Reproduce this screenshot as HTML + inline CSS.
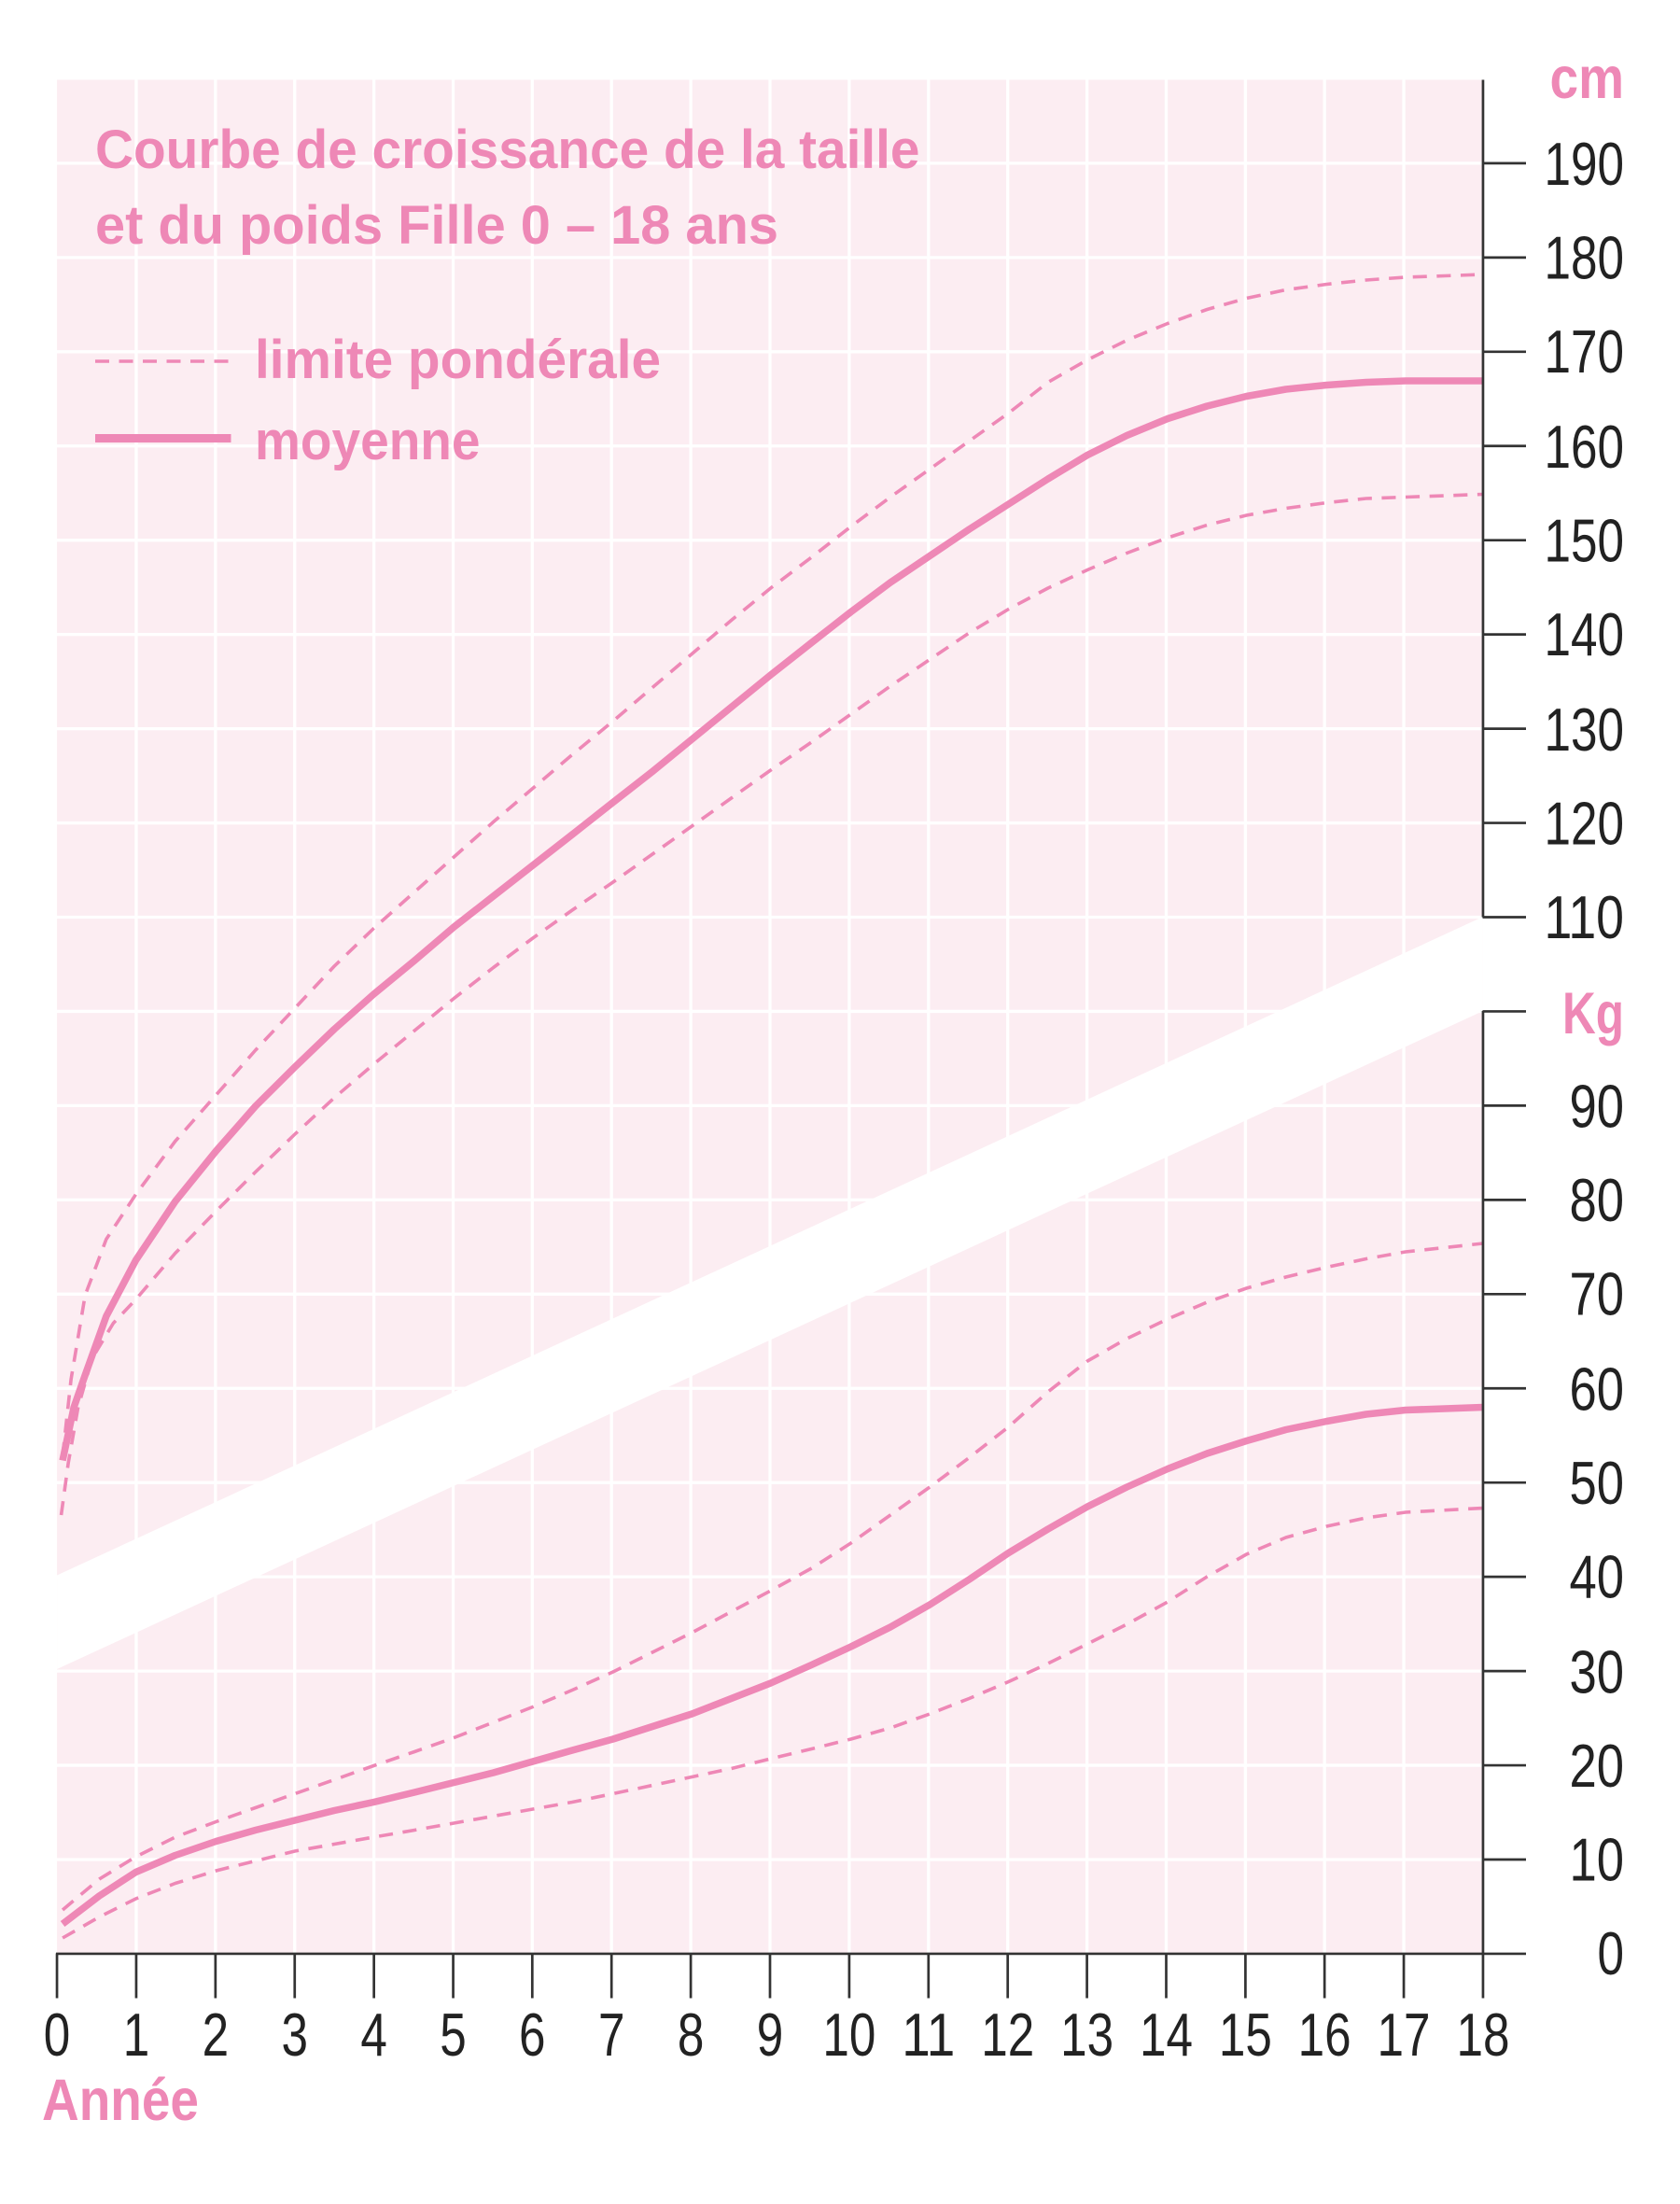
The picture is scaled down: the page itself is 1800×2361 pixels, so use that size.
<!DOCTYPE html>
<html><head><meta charset="utf-8"><style>
html,body{margin:0;padding:0;background:#fff}
svg{display:block}
text{font-family:"Liberation Sans Narrow","Liberation Sans",sans-serif}
</style></head><body>
<svg width="1800" height="2361" viewBox="0 0 1200 1574" xmlns="http://www.w3.org/2000/svg">
<rect x="0" y="0" width="1200" height="1574" fill="#fff"/>
<rect x="40.7" y="57" width="1018.6" height="1338.3" fill="#fcedf2"/>
<g stroke="#fff" stroke-width="2.2">
<line x1="97.3" y1="57" x2="97.3" y2="1395"/><line x1="153.9" y1="57" x2="153.9" y2="1395"/><line x1="210.5" y1="57" x2="210.5" y2="1395"/><line x1="267.1" y1="57" x2="267.1" y2="1395"/><line x1="323.7" y1="57" x2="323.7" y2="1395"/><line x1="380.2" y1="57" x2="380.2" y2="1395"/><line x1="436.8" y1="57" x2="436.8" y2="1395"/><line x1="493.4" y1="57" x2="493.4" y2="1395"/><line x1="550" y1="57" x2="550" y2="1395"/><line x1="606.6" y1="57" x2="606.6" y2="1395"/><line x1="663.2" y1="57" x2="663.2" y2="1395"/><line x1="719.8" y1="57" x2="719.8" y2="1395"/><line x1="776.4" y1="57" x2="776.4" y2="1395"/><line x1="833" y1="57" x2="833" y2="1395"/><line x1="889.6" y1="57" x2="889.6" y2="1395"/><line x1="946.1" y1="57" x2="946.1" y2="1395"/><line x1="1002.7" y1="57" x2="1002.7" y2="1395"/>
<line x1="40" y1="1328" x2="1059" y2="1328"/><line x1="40" y1="1260.7" x2="1059" y2="1260.7"/><line x1="40" y1="1193.4" x2="1059" y2="1193.4"/><line x1="40" y1="1126.1" x2="1059" y2="1126.1"/><line x1="40" y1="1058.8" x2="1059" y2="1058.8"/><line x1="40" y1="991.5" x2="1059" y2="991.5"/><line x1="40" y1="924.2" x2="1059" y2="924.2"/><line x1="40" y1="856.9" x2="1059" y2="856.9"/><line x1="40" y1="789.6" x2="1059" y2="789.6"/><line x1="40" y1="722.3" x2="1059" y2="722.3"/><line x1="40" y1="655" x2="1059" y2="655"/><line x1="40" y1="587.7" x2="1059" y2="587.7"/><line x1="40" y1="520.4" x2="1059" y2="520.4"/><line x1="40" y1="453.1" x2="1059" y2="453.1"/><line x1="40" y1="385.8" x2="1059" y2="385.8"/><line x1="40" y1="318.5" x2="1059" y2="318.5"/><line x1="40" y1="251.2" x2="1059" y2="251.2"/><line x1="40" y1="183.9" x2="1059" y2="183.9"/><line x1="40" y1="116.6" x2="1059" y2="116.6"/>
</g>
<polygon points="40.7,1125 1059.3,654.7 1059.3,722 40.7,1192" fill="#fff"/>
<g fill="none" stroke="#ee88b6" stroke-linejoin="round" stroke-linecap="butt" transform="matrix(1.0055,0,0,1,0.48,0)">
<polyline stroke-width="5" points="44,1043 52,1005 60,982 75,940 96,900 124,858 153,822 181,790 209,762 237,735 265,710 294,686 322,662 350,640 378,618 406,596 435,573 463,551 491,528 519,505 547,482 576,459 604,437 632,416 660,397 688,378 716,360 744,342 772,325 800,311 829,299 857,290 885,283 913,278 942,275 970,273 998,272 1053,272"/>
<polyline stroke-width="2.4" stroke-dasharray="10,7" points="44,1040 50,985 60,925 75,885 96,853 124,815 153,782 181,750 209,720 237,690 265,663 294,637 322,612 350,587 378,563 406,539 435,515 463,491 491,467 519,443 547,420 576,398 604,376 632,355 660,335 688,315 716,295 744,273 772,257 800,243 829,231 857,221 885,213 913,207 942,203 970,200 998,198 1053,196"/>
<polyline stroke-width="2.4" stroke-dasharray="10,7" points="43,1082 48,1045 55,1005 65,970 80,945 96,928 124,895 153,865 181,837 209,810 237,784 265,760 294,736 322,713 350,691 378,670 406,650 435,630 463,610 491,590 519,570 547,550 576,530 604,510 632,490 660,471 688,452 716,435 744,420 772,407 800,395 829,384 857,375 885,368 913,363 942,359 970,356 998,355 1053,353"/>
<g transform="translate(0,4)">
<polyline stroke-width="5" points="44,1370 70,1350 96,1333 124,1321 153,1311 181,1303 209,1296 237,1289 265,1283 294,1276 322,1269 350,1262 378,1254 406,1246 435,1238 463,1229 491,1220 519,1209 547,1198 576,1185 604,1172 632,1158 660,1142 688,1124 716,1105 744,1088 772,1072 800,1058 829,1045 857,1034 885,1025 913,1017 942,1011 970,1006 998,1003 1053,1001"/>
<polyline stroke-width="2.4" stroke-dasharray="10,7" points="44,1360 70,1338 96,1322 124,1308 153,1297 181,1287 209,1277 237,1267 265,1257 294,1247 322,1237 350,1226 378,1215 406,1203 435,1190 463,1176 491,1162 519,1147 547,1132 576,1116 604,1098 632,1078 660,1058 688,1037 716,1015 744,990 772,968 800,952 829,938 857,926 885,916 913,908 942,901 970,895 998,890 1053,884"/>
<polyline stroke-width="2.4" stroke-dasharray="10,7" points="44,1380 70,1365 96,1352 124,1341 153,1332 181,1325 209,1318 237,1313 265,1308 294,1303 322,1298 350,1293 378,1288 406,1283 435,1277 463,1271 491,1265 519,1259 547,1252 576,1245 604,1238 632,1230 660,1220 688,1209 716,1197 744,1184 772,1170 800,1156 829,1140 857,1122 885,1106 913,1094 942,1086 970,1080 998,1076 1053,1073"/>
</g>
</g>
<g stroke="#333" stroke-width="1.8" fill="none">
<line x1="1059.3" y1="57" x2="1059.3" y2="655"/>
<line x1="1059.3" y1="722" x2="1059.3" y2="1427"/>
<line x1="40" y1="1395.3" x2="1090" y2="1395.3"/>
<line x1="1059" y1="655" x2="1090" y2="655"/><line x1="1059" y1="587.7" x2="1090" y2="587.7"/><line x1="1059" y1="520.4" x2="1090" y2="520.4"/><line x1="1059" y1="453.1" x2="1090" y2="453.1"/><line x1="1059" y1="385.8" x2="1090" y2="385.8"/><line x1="1059" y1="318.5" x2="1090" y2="318.5"/><line x1="1059" y1="251.2" x2="1090" y2="251.2"/><line x1="1059" y1="183.9" x2="1090" y2="183.9"/><line x1="1059" y1="116.6" x2="1090" y2="116.6"/>
<line x1="1059" y1="722.3" x2="1090" y2="722.3"/><line x1="1059" y1="789.6" x2="1090" y2="789.6"/><line x1="1059" y1="856.9" x2="1090" y2="856.9"/><line x1="1059" y1="924.2" x2="1090" y2="924.2"/><line x1="1059" y1="991.5" x2="1090" y2="991.5"/><line x1="1059" y1="1058.8" x2="1090" y2="1058.8"/><line x1="1059" y1="1126.1" x2="1090" y2="1126.1"/><line x1="1059" y1="1193.4" x2="1090" y2="1193.4"/><line x1="1059" y1="1260.7" x2="1090" y2="1260.7"/><line x1="1059" y1="1328" x2="1090" y2="1328"/>
<line x1="40.7" y1="1395" x2="40.7" y2="1427"/><line x1="97.3" y1="1395" x2="97.3" y2="1427"/><line x1="153.9" y1="1395" x2="153.9" y2="1427"/><line x1="210.5" y1="1395" x2="210.5" y2="1427"/><line x1="267.1" y1="1395" x2="267.1" y2="1427"/><line x1="323.7" y1="1395" x2="323.7" y2="1427"/><line x1="380.2" y1="1395" x2="380.2" y2="1427"/><line x1="436.8" y1="1395" x2="436.8" y2="1427"/><line x1="493.4" y1="1395" x2="493.4" y2="1427"/><line x1="550" y1="1395" x2="550" y2="1427"/><line x1="606.6" y1="1395" x2="606.6" y2="1427"/><line x1="663.2" y1="1395" x2="663.2" y2="1427"/><line x1="719.8" y1="1395" x2="719.8" y2="1427"/><line x1="776.4" y1="1395" x2="776.4" y2="1427"/><line x1="833" y1="1395" x2="833" y2="1427"/><line x1="889.6" y1="1395" x2="889.6" y2="1427"/><line x1="946.1" y1="1395" x2="946.1" y2="1427"/><line x1="1002.7" y1="1395" x2="1002.7" y2="1427"/>
</g>
<g fill="#222" font-size="43" text-anchor="end" lengthAdjust="spacingAndGlyphs">
<text x="1160" y="670" textLength="57" lengthAdjust="spacingAndGlyphs">110</text><text x="1160" y="603" textLength="57" lengthAdjust="spacingAndGlyphs">120</text><text x="1160" y="536" textLength="57" lengthAdjust="spacingAndGlyphs">130</text><text x="1160" y="468" textLength="57" lengthAdjust="spacingAndGlyphs">140</text><text x="1160" y="401" textLength="57" lengthAdjust="spacingAndGlyphs">150</text><text x="1160" y="334" textLength="57" lengthAdjust="spacingAndGlyphs">160</text><text x="1160" y="266" textLength="57" lengthAdjust="spacingAndGlyphs">170</text><text x="1160" y="199" textLength="57" lengthAdjust="spacingAndGlyphs">180</text><text x="1160" y="132" textLength="57" lengthAdjust="spacingAndGlyphs">190</text>
<text x="1160" y="805" textLength="39" lengthAdjust="spacingAndGlyphs">90</text><text x="1160" y="872" textLength="39" lengthAdjust="spacingAndGlyphs">80</text><text x="1160" y="939" textLength="39" lengthAdjust="spacingAndGlyphs">70</text><text x="1160" y="1007" textLength="39" lengthAdjust="spacingAndGlyphs">60</text><text x="1160" y="1074" textLength="39" lengthAdjust="spacingAndGlyphs">50</text><text x="1160" y="1141" textLength="39" lengthAdjust="spacingAndGlyphs">40</text><text x="1160" y="1209" textLength="39" lengthAdjust="spacingAndGlyphs">30</text><text x="1160" y="1276" textLength="39" lengthAdjust="spacingAndGlyphs">20</text><text x="1160" y="1343" textLength="39" lengthAdjust="spacingAndGlyphs">10</text><text x="1160" y="1410" textLength="19" lengthAdjust="spacingAndGlyphs">0</text>
</g>
<g fill="#222" font-size="43" text-anchor="middle">
<text x="40.7" y="1468" textLength="19" lengthAdjust="spacingAndGlyphs">0</text><text x="97.3" y="1468" textLength="19" lengthAdjust="spacingAndGlyphs">1</text><text x="153.9" y="1468" textLength="19" lengthAdjust="spacingAndGlyphs">2</text><text x="210.5" y="1468" textLength="19" lengthAdjust="spacingAndGlyphs">3</text><text x="267.1" y="1468" textLength="19" lengthAdjust="spacingAndGlyphs">4</text><text x="323.7" y="1468" textLength="19" lengthAdjust="spacingAndGlyphs">5</text><text x="380.2" y="1468" textLength="19" lengthAdjust="spacingAndGlyphs">6</text><text x="436.8" y="1468" textLength="19" lengthAdjust="spacingAndGlyphs">7</text><text x="493.4" y="1468" textLength="19" lengthAdjust="spacingAndGlyphs">8</text><text x="550" y="1468" textLength="19" lengthAdjust="spacingAndGlyphs">9</text><text x="606.6" y="1468" textLength="38" lengthAdjust="spacingAndGlyphs">10</text><text x="663.2" y="1468" textLength="38" lengthAdjust="spacingAndGlyphs">11</text><text x="719.8" y="1468" textLength="38" lengthAdjust="spacingAndGlyphs">12</text><text x="776.4" y="1468" textLength="38" lengthAdjust="spacingAndGlyphs">13</text><text x="833" y="1468" textLength="38" lengthAdjust="spacingAndGlyphs">14</text><text x="889.6" y="1468" textLength="38" lengthAdjust="spacingAndGlyphs">15</text><text x="946.1" y="1468" textLength="38" lengthAdjust="spacingAndGlyphs">16</text><text x="1002.7" y="1468" textLength="38" lengthAdjust="spacingAndGlyphs">17</text><text x="1059.3" y="1468" textLength="38" lengthAdjust="spacingAndGlyphs">18</text>
</g>
<g fill="#ee88b6" font-weight="bold">
<text x="1107" y="70" font-size="42" textLength="53" lengthAdjust="spacingAndGlyphs">cm</text>
<text x="1116" y="738" font-size="42" textLength="44" lengthAdjust="spacingAndGlyphs">Kg</text>
<text x="30" y="1514" font-size="42" textLength="112" lengthAdjust="spacingAndGlyphs">Année</text>
</g>
<g fill="#ee88b6" font-size="39" font-weight="bold">
<text x="68" y="120" textLength="589" lengthAdjust="spacingAndGlyphs">Courbe de croissance de la taille</text>
<text x="68" y="174" textLength="488" lengthAdjust="spacingAndGlyphs">et du poids Fille 0 – 18 ans</text>
<text x="182" y="270" textLength="290" lengthAdjust="spacingAndGlyphs">limite pondérale</text>
<text x="182" y="328" textLength="161" lengthAdjust="spacingAndGlyphs">moyenne</text>
</g>
<line x1="68" y1="258" x2="165" y2="258" stroke="#ee88b6" stroke-width="2.4" stroke-dasharray="10,7"/>
<line x1="68" y1="313" x2="165" y2="313" stroke="#ee88b6" stroke-width="6"/>
</svg>
</body></html>
